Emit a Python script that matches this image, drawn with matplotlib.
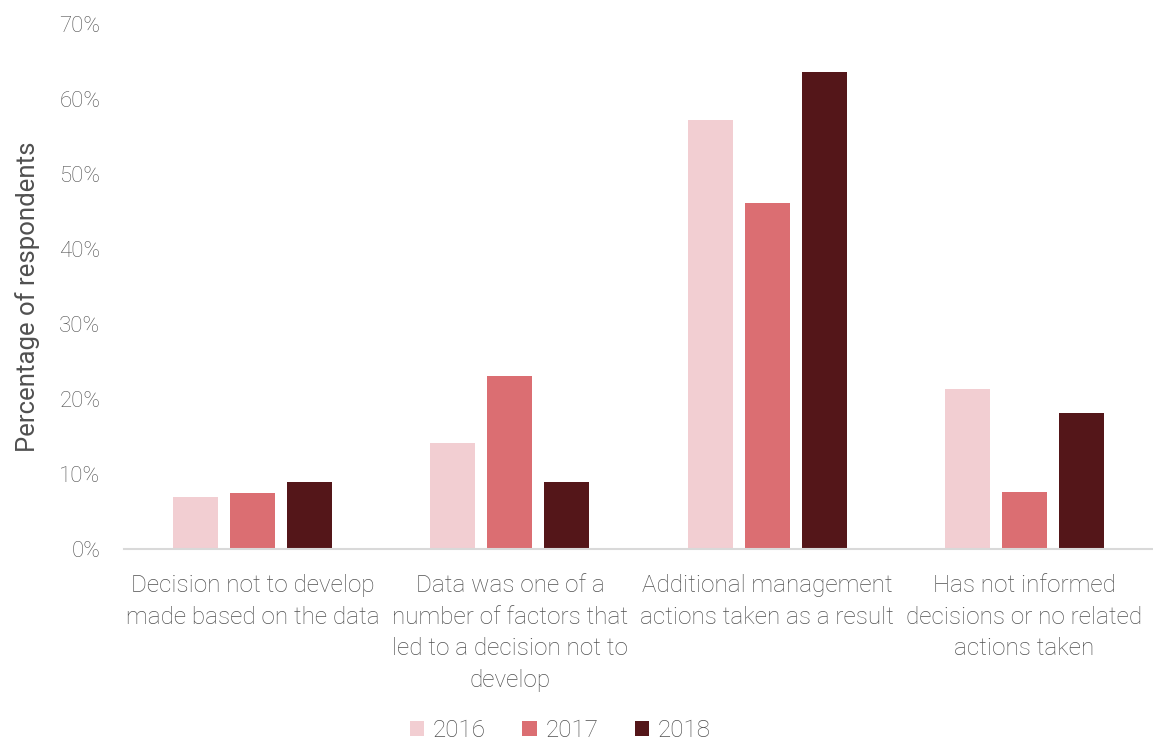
import matplotlib.pyplot as plt
import numpy as np
from matplotlib.ticker import FuncFormatter

plt.rcParams['font.family'] = ['Roboto', 'DejaVu Sans']
plt.rcParams['font.weight'] = 'light'

categories = [
    'Decision not to develop\nmade based on the data',
    'Data was one of a\nnumber of factors that\nled to a decision not to\ndevelop',
    'Additional management\nactions taken as a result',
    'Has not informed\ndecisions or no related\nactions taken',
]
years = ['2016', '2017', '2018']
v2016 = [7.0, 14.1, 57.2, 21.3]
v2017 = [7.5, 23.1, 46.1, 7.6]
v2018 = [9.0, 9.0, 63.6, 18.1]
colors = ['#F2CED2', '#DB6E72', '#541619']

text_col = '#505050'

fig = plt.figure(figsize=(11.53, 7.43), dpi=100)
ax = fig.add_axes([124 / 1153, 194 / 743, 1029 / 1153, 525 / 743])

x = np.arange(len(categories))
width = 0.175
step = 0.222
for i, (vals, yr) in enumerate(zip([v2016, v2017, v2018], years)):
    ax.bar(x + (i - 1) * step, vals, width, color=colors[i], label=yr, zorder=2)

ax.set_xlim(-0.5, len(categories) - 0.5)
ax.set_ylim(0, 70)
ax.set_yticks(np.arange(0, 71, 10))
ax.yaxis.set_major_formatter(FuncFormatter(lambda v, p: f'{v:.0f}%'))
ax.set_xticks(x)
ax.set_xticklabels(categories, linespacing=1.48, va='top')

for s in ['top', 'right', 'left']:
    ax.spines[s].set_visible(False)
ax.spines['bottom'].set_color('#D9D9D9')
ax.spines['bottom'].set_linewidth(1.5)
ax.tick_params(axis='x', length=0, labelsize=17.5, colors=text_col, pad=18)
ax.tick_params(axis='y', length=0, labelsize=16, colors=text_col, pad=17)

ax.set_ylabel('Percentage of respondents', fontsize=18.5, color=text_col)
ax.yaxis.set_label_coords(-0.082, 0.48)

leg = fig.legend(loc='lower center', bbox_to_anchor=(0.486, -0.028), ncol=3, frameon=False,
                 fontsize=17.5, handlelength=0.6, handleheight=0.6, handletextpad=0.35,
                 columnspacing=1.5)
for t in leg.get_texts():
    t.set_color(text_col)

fig.savefig('out.png', dpi=100)
